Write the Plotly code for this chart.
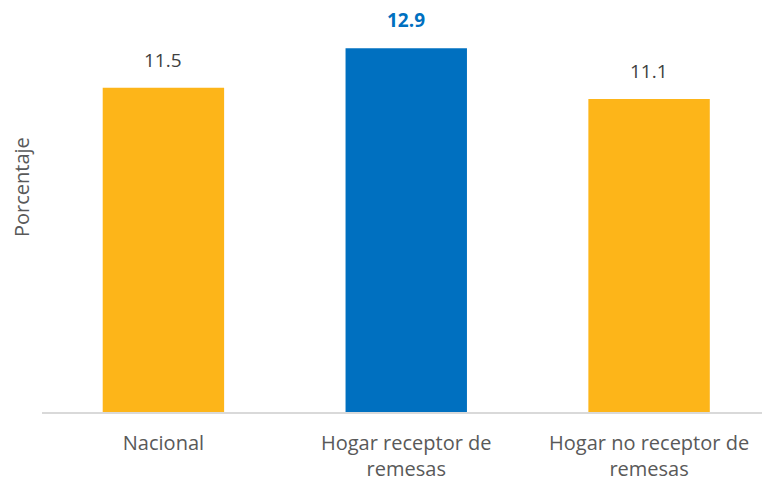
import plotly.graph_objects as go

categorias = ["Nacional", "Hogar receptor de<br>remesas", "Hogar no receptor de<br>remesas"]
valores = [11.5, 12.9, 11.1]
colores = ["#FDB519", "#0070C0", "#FDB519"]
etiquetas = ["11.5", "<b>12.9</b>", "11.1"]
color_etiquetas = ["#404040", "#0070C0", "#404040"]

FUENTE = "Open Sans"

fig = go.Figure()

fig.add_trace(go.Bar(
    x=categorias,
    y=valores,
    marker=dict(color=colores, line=dict(width=0)),
    width=0.5,
    hoverinfo="skip",
))

# Etiquetas de datos sobre las barras
for cat, val, txt, col in zip(categorias, valores, etiquetas, color_etiquetas):
    fig.add_annotation(
        x=cat, y=val, text=txt, showarrow=False,
        yanchor="bottom", yshift=13,
        font=dict(size=19, color=col, family=FUENTE),
    )

# Título del eje Y
fig.add_annotation(
    x=0, y=0.574, xref="paper", yref="paper",
    xanchor="center", yanchor="middle", xshift=-20,
    text="Porcentaje", textangle=-90, showarrow=False,
    font=dict(size=20, color="#595959", family=FUENTE),
)

fig.update_layout(
    width=762,
    height=483,
    paper_bgcolor="white",
    plot_bgcolor="white",
    showlegend=False,
    margin=dict(l=42, r=0, t=20, b=71),
    font=dict(family=FUENTE, color="#595959", size=20),
)
fig.update_xaxes(
    range=[-0.5, 2.465],
    showline=True, linecolor="#D9D9D9", linewidth=1.5,
    ticks="", ticklabelstandoff=12,
    tickfont=dict(size=20, color="#595959", family=FUENTE),
)
fig.update_yaxes(
    range=[0, 13.9],
    showgrid=False, showticklabels=False, zeroline=False,
)

fig.write_html("out.html", config={"displayModeBar": False},
               post_script="document.body.style.margin='0';")
